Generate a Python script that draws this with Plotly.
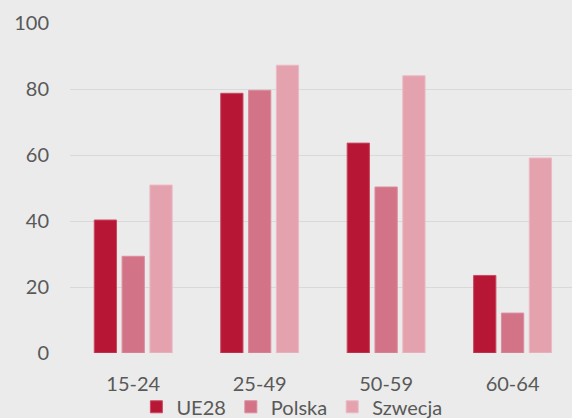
import plotly.graph_objects as go

# Age groups and employment rate (%) per region
age_groups = ["15-24", "25-49", "50-59", "60-64"]
ue28 = [40.3, 78.7, 63.6, 23.5]
polska = [29.3, 79.6, 50.3, 12.1]
szwecja = [50.9, 87.2, 84.0, 59.1]

series = [
    ("UE28", ue28, "#B71735", "#C84A63"),
    ("Polska", polska, "#D37387", "#DC8C9D"),
    ("Szwecja", szwecja, "#E4A2AF", "#ECBAC4"),
]

fig = go.Figure()
for name, vals, fill, edge in series:
    fig.add_trace(go.Bar(
        name=name,
        x=age_groups,
        y=vals,
        marker=dict(color=fill, line=dict(color=edge, width=1)),
    ))

text_color = "#595959"
fig.update_layout(
    width=572,
    height=418,
    barmode="group",
    bargap=0.34,
    bargroupgap=0.2,
    paper_bgcolor="#EBEBEB",
    plot_bgcolor="#EBEBEB",
    font=dict(family="Lato", size=20, color=text_color),
    margin=dict(l=69.5, r=0, t=22.7, b=65, autoexpand=False),
    showlegend=True,
    legend=dict(
        orientation="h",
        xanchor="center",
        x=0.442,
        yanchor="middle",
        y=-0.163,
        font=dict(family="Lato", size=20, color=text_color),
        itemwidth=30,
        bgcolor="rgba(0,0,0,0)",
    ),
)
fig.update_xaxes(
    type="category",
    range=[-0.5, 3.47],
    showgrid=False,
    showline=False,
    zeroline=False,
    ticks="",
    ticklabelstandoff=17,
)
fig.update_yaxes(
    range=[0, 100],
    tickvals=[0, 20, 40, 60, 80, 100],
    showgrid=True,
    gridcolor="#D9D9D9",
    gridwidth=1.3,
    zeroline=False,
    showline=False,
    ticks="",
    ticklabelstandoff=20,
)

fig.write_html("out.html")
